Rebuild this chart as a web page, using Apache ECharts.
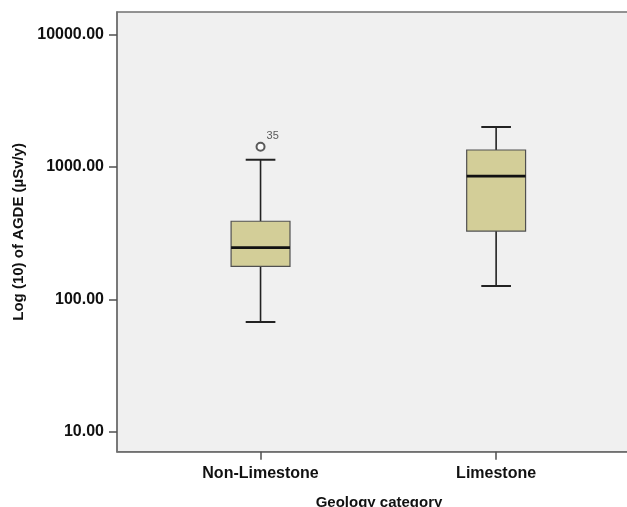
<!DOCTYPE html>
<html><head><meta charset="utf-8">
<script src="https://cdn.jsdelivr.net/npm/echarts@6/dist/echarts.min.js"></script>
<style>html,body{margin:0;padding:0;background:#fff}#c{width:627px;height:507px}</style>
</head><body><div id="c"></div>
<script>
// ---- data ----
const categories = ['Non-Limestone', 'Limestone'];
const whiskerLow = [67.3, 126];
const q1 = [177.5, 328];
const medians = [245.5, 855];
const q3 = [389, 1346];
const whiskerHigh = [1136, 2010];
const outlierCategory = [0];
const outlierValues = [1425];
const outlierIds = ['35'];
const yTicks = [10, 100, 1000, 10000];
const xTicks = [1, 2];

// ---- build ----
const boxData = categories.map((c, i) => [i + 1, whiskerLow[i], q1[i], medians[i], q3[i], whiskerHigh[i]]);
const outlierData = outlierValues.map((v, i) => [outlierCategory[i] + 1, v]);

const BOX_HALF = 0.125, CAP_HALF = 0.063;
const font = 'Liberation Sans, Arial, sans-serif';

const chart = echarts.init(document.getElementById('c'), null, {renderer: 'canvas'});
chart.setOption({
  backgroundColor: '#ffffff',
  animation: false,
  grid: {left: 117, top: 12, right: -2, bottom: 55.3, show: true, backgroundColor: '#f0f0f0',
         borderColor: '#707070', borderWidth: 1.5, containLabel: false, outerBoundsMode: 'none'},
  xAxis: {
    type: 'value', min: 0.3907, max: 2.564,
    name: 'Geology category', nameLocation: 'middle', nameGap: 44,
    nameTextStyle: {fontFamily: font, fontWeight: 'bold', fontSize: 15, color: '#111', padding: [0, 0, 0, 12]},
    axisLine: {lineStyle: {color: '#707070', width: 1.5}},
    axisTick: {show: true, length: 8, customValues: xTicks, lineStyle: {color: '#505050', width: 1.5}},
    axisLabel: {customValues: xTicks, margin: 14, fontFamily: font, fontWeight: 'bold', fontSize: 16, color: '#111',
                formatter: v => categories[Math.round(v) - 1] || ''},
    splitLine: {show: false}
  },
  yAxis: {
    type: 'log', logBase: 10, min: 7.03, max: 14890,
    name: 'Log (10) of AGDE (µSv/y)', nameLocation: 'middle', nameGap: 86,
    nameTextStyle: {fontFamily: font, fontWeight: 'bold', fontSize: 15, color: '#111'},
    axisLine: {show: true, lineStyle: {color: '#707070', width: 1.5}},
    axisTick: {show: true, length: 8, customValues: yTicks, lineStyle: {color: '#505050', width: 1.5}},
    axisLabel: {customValues: yTicks, margin: 13, fontFamily: font, fontWeight: 'bold', fontSize: 16, color: '#111',
                formatter: v => Number(v).toFixed(2)},
    splitLine: {show: false}
  },
  series: [
    {
      type: 'custom',
      data: boxData,
      encode: {x: 0, y: [1, 2, 3, 4, 5]},
      renderItem: function (params, api) {
        const x = api.value(0);
        const pLow = api.coord([x, api.value(1)]);
        const pQ1 = api.coord([x, api.value(2)]);
        const pMed = api.coord([x, api.value(3)]);
        const pQ3 = api.coord([x, api.value(4)]);
        const pHigh = api.coord([x, api.value(5)]);
        const bl = api.coord([x - BOX_HALF, api.value(3)])[0];
        const br = api.coord([x + BOX_HALF, api.value(3)])[0];
        const cl = api.coord([x - CAP_HALF, api.value(3)])[0];
        const cr = api.coord([x + CAP_HALF, api.value(3)])[0];
        const cx = pMed[0];
        const wStyle = {stroke: '#222', lineWidth: 1.6};
        return {
          type: 'group',
          children: [
            {type: 'line', shape: {x1: cx, y1: pLow[1], x2: cx, y2: pQ1[1]}, style: wStyle},
            {type: 'line', shape: {x1: cx, y1: pQ3[1], x2: cx, y2: pHigh[1]}, style: wStyle},
            {type: 'line', shape: {x1: cl, y1: pLow[1], x2: cr, y2: pLow[1]}, style: {stroke: '#222', lineWidth: 2}},
            {type: 'line', shape: {x1: cl, y1: pHigh[1], x2: cr, y2: pHigh[1]}, style: {stroke: '#222', lineWidth: 2}},
            {type: 'rect', shape: {x: bl, y: pQ3[1], width: br - bl, height: pQ1[1] - pQ3[1]},
             style: {fill: '#d3ce98', stroke: '#505050', lineWidth: 1.2}},
            {type: 'line', shape: {x1: bl, y1: pMed[1], x2: br, y2: pMed[1]}, style: {stroke: '#111', lineWidth: 2.8}}
          ]
        };
      }
    },
    {
      type: 'scatter',
      data: outlierData,
      symbol: 'emptyCircle', symbolSize: 8,
      itemStyle: {color: '#333', borderColor: '#333', borderWidth: 1.2},
      label: {show: true, position: 'right', distance: 1, offset: [0, -11],
              formatter: p => outlierIds[p.dataIndex], fontFamily: font, fontSize: 11, color: '#333'}
    }
  ]
});
</script></body></html>
